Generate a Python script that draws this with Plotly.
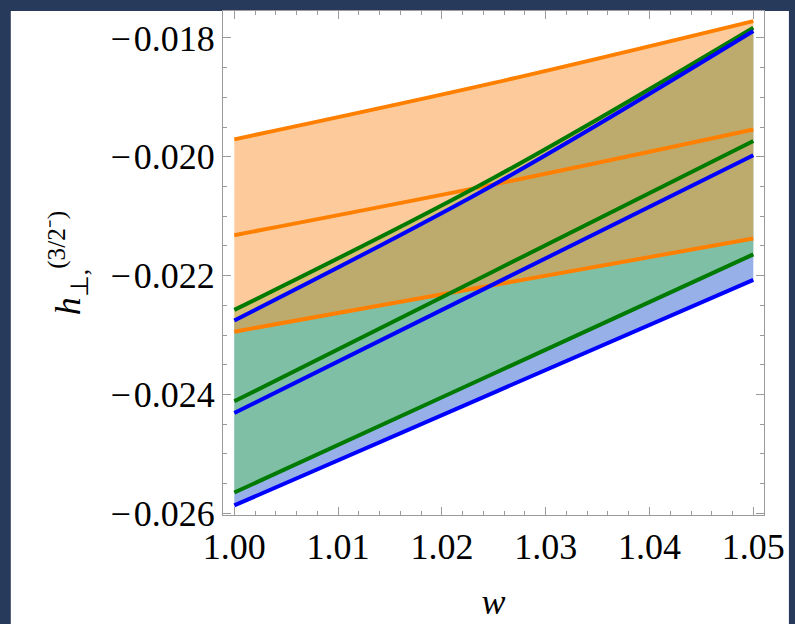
import plotly.graph_objects as go

# sampled w values
w = [1.00, 1.025, 1.05]

# orange band (upper, middle, lower curves)
orange_top = [-0.019706, -0.018756, -0.017716]
orange_mid = [-0.021319, -0.020464, -0.019540]
orange_bot = [-0.022943, -0.022158, -0.021375]

# green band
green_top = [-0.022576, -0.020352, -0.017827]
green_mid = [-0.024115, -0.021925, -0.019735]
green_bot = [-0.025650, -0.023646, -0.021641]

# blue band
blue_top = [-0.022754, -0.020469, -0.017883]
blue_mid = [-0.024311, -0.022142, -0.019973]
blue_bot = [-0.025867, -0.023968, -0.022070]

x_ticks = [1.00, 1.01, 1.02, 1.03, 1.04, 1.05]
x_labels = ["1.00", "1.01", "1.02", "1.03", "1.04", "1.05"]
y_ticks = [-0.026, -0.024, -0.022, -0.020, -0.018]
y_labels = ["\u2212\u200a0.026", "\u2212\u200a0.024", "\u2212\u200a0.022", "\u2212\u200a0.020", "\u2212\u200a0.018"]

NAVY = "#283a5c"
FONT = "Liberation Serif"

fig = go.Figure()

def band(top, bot, fillcolor):
    fig.add_trace(go.Scatter(x=w, y=top, mode="lines", line=dict(width=0, shape="spline"),
                             hoverinfo="skip", showlegend=False))
    fig.add_trace(go.Scatter(x=w, y=bot, mode="lines", line=dict(width=0, shape="spline"),
                             fill="tonexty", fillcolor=fillcolor, hoverinfo="skip", showlegend=False))

band(blue_top, blue_bot, "rgba(47,97,209,0.5)")
band(green_top, green_bot, "rgba(103,206,98,0.5)")
band(orange_top, orange_bot, "rgba(251,151,55,0.5)")

def line(y, color):
    fig.add_trace(go.Scatter(x=w, y=y, mode="lines", line=dict(color=color, width=4, shape="spline"),
                             showlegend=False))

for y in (orange_top, orange_mid, orange_bot):
    line(y, "#ff8000")
for y in (green_top, green_mid, green_bot):
    line(y, "#007a00")
for y in (blue_top, blue_mid, blue_bot):
    line(y, "#0000ff")

axis_common = dict(
    showline=True, linecolor="#9a9a9a", linewidth=1, mirror="ticks",
    ticks="inside", ticklen=8, tickcolor="#9a9a9a", tickwidth=1,
    showgrid=False, zeroline=False,
    tickfont=dict(family=FONT, size=36, color="black"),
)

fig.update_xaxes(
    range=[0.99891, 1.05103], tickvals=x_ticks, ticktext=x_labels,
    minor=dict(dtick=0.002, ticks="inside", ticklen=4, tickcolor="#9a9a9a", showgrid=False),
    title=dict(text="<i>w</i>", font=dict(family=FONT, size=36, color="black"), standoff=22),
    **axis_common,
)
fig.update_yaxes(
    range=[-0.026028, -0.017546], tickvals=y_ticks, ticktext=y_labels,
    minor=dict(dtick=0.0005, ticks="inside", ticklen=4, tickcolor="#9a9a9a", showgrid=False),
    title=dict(text="<i>h</i><sub>\u22a5,</sub><sup>(3/2\u207b)</sup>",
               font=dict(family=FONT, size=36, color="black"), standoff=18),
    **axis_common,
)

fig.add_shape(type="rect", xref="paper", yref="paper",
              x0=-0.39227, x1=1.04604, y0=-0.25, y1=1.0,
              fillcolor="white", line=dict(width=0), layer="below")

fig.update_layout(
    width=795, height=624,
    margin=dict(l=223, r=29, t=10, b=105),
    paper_bgcolor=NAVY, plot_bgcolor="white",
)

fig.write_html("out.html")
